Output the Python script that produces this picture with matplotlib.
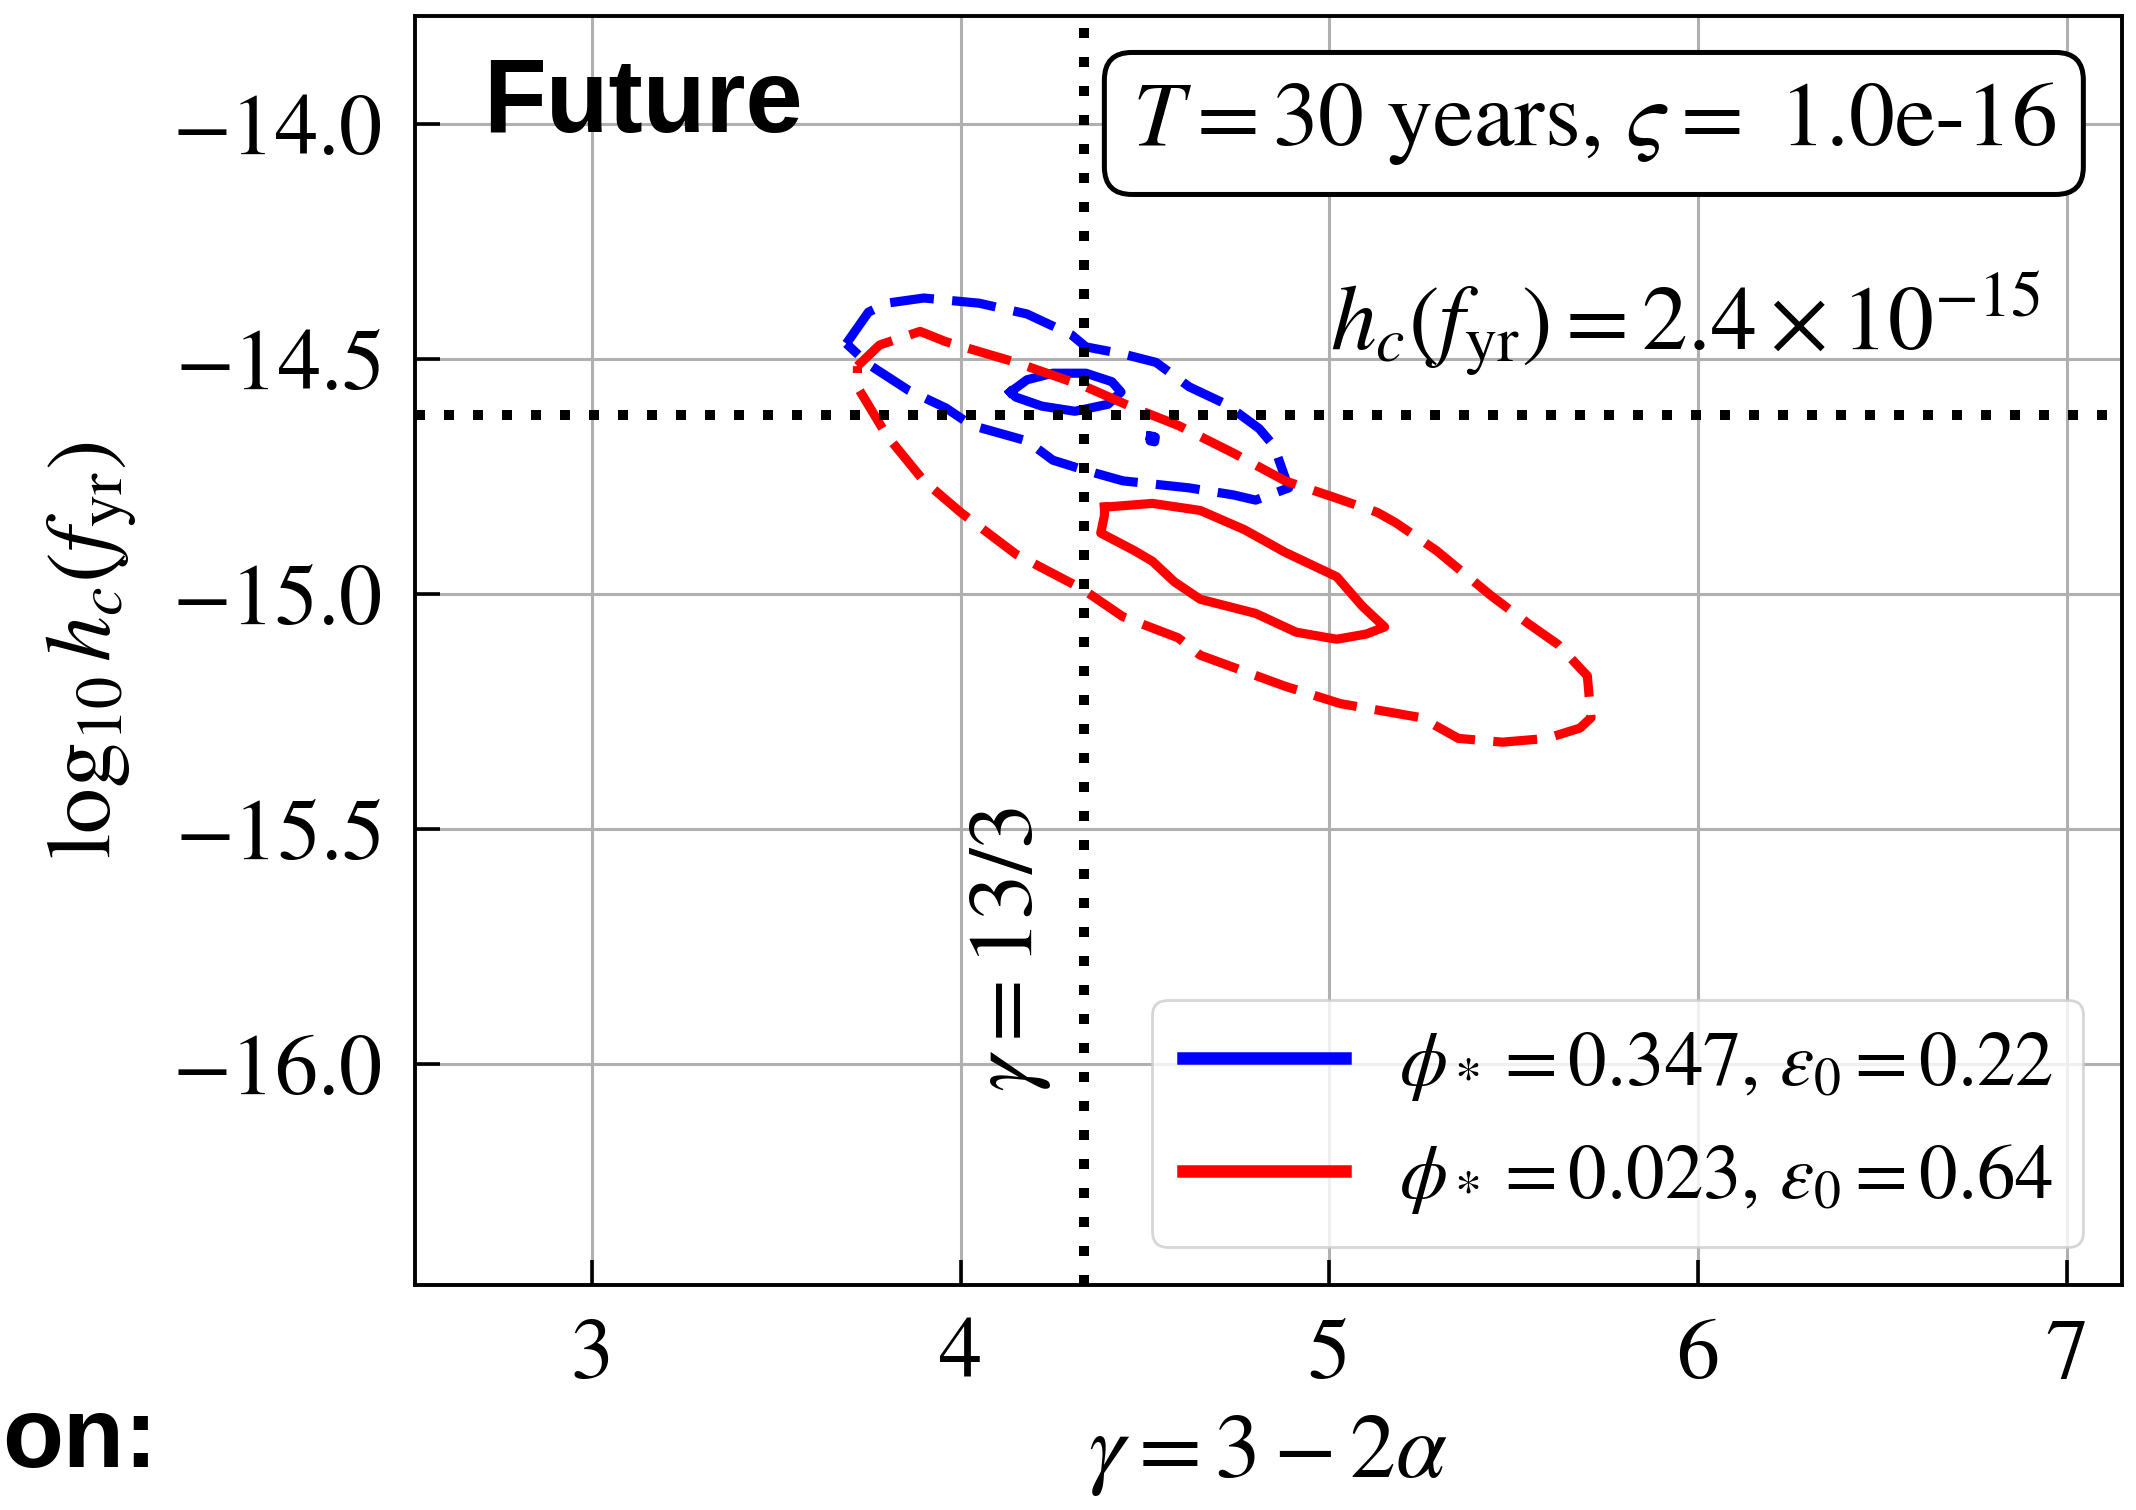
import numpy as np
import matplotlib
matplotlib.use("Agg")
import matplotlib.pyplot as plt
from matplotlib.lines import Line2D

plt.rcParams["font.family"] = "STIXGeneral"
plt.rcParams["mathtext.fontset"] = "stix"

# contour outlines in (gamma, log10 h_c)
blue_outer_x = [3.69, 3.75, 3.80, 3.90, 4.05, 4.18, 4.30, 4.34, 4.44, 4.53, 4.62, 4.72, 4.81, 4.85,
                4.89, 4.80, 4.74, 4.62, 4.44, 4.34, 4.25, 4.18, 4.03, 3.96, 3.86, 3.75, 3.69]
blue_outer_y = [-14.467, -14.400, -14.381, -14.370, -14.381, -14.404, -14.448, -14.474, -14.489,
                -14.507, -14.559, -14.596, -14.648, -14.685, -14.774, -14.800, -14.789, -14.774,
                -14.759, -14.737, -14.715, -14.674, -14.641, -14.604, -14.567, -14.511, -14.467]

blue_inner_x = [4.135, 4.18, 4.25, 4.34, 4.41, 4.435, 4.40, 4.31, 4.22, 4.15, 4.135]
blue_inner_y = [-14.570, -14.544, -14.530, -14.530, -14.548, -14.570, -14.596, -14.611, -14.600,
                -14.581, -14.570]

blue_dot_x = [4.515, 4.528, 4.526, 4.514, 4.515]
blue_dot_y = [-14.664, -14.666, -14.676, -14.674, -14.664]

red_outer_x = [3.72, 3.78, 3.89, 3.96, 4.15, 4.34, 4.47, 4.59, 4.74, 4.88, 5.02, 5.13, 5.18, 5.29,
               5.44, 5.54, 5.62, 5.70, 5.71, 5.68, 5.59, 5.47, 5.35, 5.25, 5.03, 4.88, 4.65, 4.59,
               4.44, 4.33, 4.15, 4.00, 3.90, 3.80, 3.72, 3.72]
red_outer_y = [-14.515, -14.470, -14.441, -14.463, -14.507, -14.559, -14.604, -14.641, -14.700,
               -14.759, -14.796, -14.826, -14.848, -14.907, -15.004, -15.063, -15.107, -15.174,
               -15.263, -15.285, -15.307, -15.315, -15.307, -15.263, -15.233, -15.196, -15.130,
               -15.093, -15.048, -14.989, -14.915, -14.826, -14.759, -14.663, -14.559, -14.515]

red_inner_x = [4.39, 4.52, 4.65, 4.77, 4.88, 5.02, 5.09, 5.15, 5.10, 5.02, 4.91, 4.80, 4.65, 4.58,
               4.52, 4.47, 4.38, 4.39, 4.39]
red_inner_y = [-14.815, -14.807, -14.822, -14.863, -14.911, -14.963, -15.026, -15.070, -15.085,
               -15.096, -15.081, -15.041, -15.011, -14.974, -14.930, -14.907, -14.870, -14.833,
               -14.815]

gamma_ref = 13.0 / 3.0
hc_ref = 2.4e-15

labels = [r"$\phi_* = 0.347$, $\varepsilon_0 = 0.22$",
          r"$\phi_* = 0.023$, $\varepsilon_0 = 0.64$"]
colors = ["blue", "red"]

fig = plt.figure(figsize=(10.68, 7.55), dpi=200)
ax = fig.add_axes([0.1943, 0.1490, 0.7991, 0.8404])

dash = (0, (4.8, 2.0))
lw = 3.3
ax.plot(blue_outer_x, blue_outer_y, color="blue", lw=lw, linestyle=dash)
ax.plot(blue_inner_x, blue_inner_y, color="blue", lw=lw)
ax.plot(blue_dot_x, blue_dot_y, color="blue", lw=lw)
ax.plot(red_outer_x, red_outer_y, color="red", lw=lw, linestyle=dash)
ax.plot(red_inner_x, red_inner_y, color="red", lw=lw)

ax.axhline(np.log10(hc_ref), color="black", lw=3.6, linestyle=(0, (1, 1.9)), zorder=5)
ax.axvline(gamma_ref, color="black", lw=3.6, linestyle=(0, (1, 1.9)), zorder=5)

ax.set_xlim(2.52, 7.15)
ax.set_ylim(-16.47, -13.77)
ax.set_xticks([3, 4, 5, 6, 7])
ax.set_yticks([-14.0, -14.5, -15.0, -15.5, -16.0])
ax.set_yticklabels(["$-14.0$", "$-14.5$", "$-15.0$", "$-15.5$", "$-16.0$"])
ax.grid(True, color="#b0b0b0", lw=1.1)
ax.tick_params(direction="in", length=9, width=1.3, labelsize=31, pad=12)
for sp in ax.spines.values():
    sp.set_linewidth(1.4)

ax.set_xlabel(r"$\gamma = 3 - 2\alpha$", fontsize=33, labelpad=6)
ax.set_ylabel(r"$\log_{10} h_c(f_{\rm yr})$", fontsize=33, labelpad=12)

ax.text(6.93, -14.48, r"$h_c(f_{\rm yr}) = 2.4\times10^{-15}$", fontsize=33,
        ha="right", va="baseline")
ax.text(4.25, -16.06, r"$\gamma = 13/3$", fontsize=33, rotation=90,
        ha="right", va="bottom")
ax.text(0.9613, 0.9496, r"$T = 30$ years, $\varsigma =$ 1.0e-16", fontsize=33,
        transform=ax.transAxes, ha="right", va="top",
        bbox=dict(boxstyle="round,pad=0.3", facecolor="white", edgecolor="black", lw=1.8))

handles = [Line2D([], [], color=c, lw=4.5) for c in colors]
ax.legend(handles, labels, loc="lower right", fontsize=27.7, framealpha=0.8,
          edgecolor="0.8", handlelength=2.1, handletextpad=0.7)

fig.text(0.226, 0.9126, "Future", fontsize=37, fontweight="bold",
         family="Liberation Sans", va="baseline")
fig.text(0.001, 0.0285, "on:", fontsize=36, fontweight="bold",
         family="Liberation Sans", ha="left", va="baseline")

fig.savefig("out.png", dpi=200)
